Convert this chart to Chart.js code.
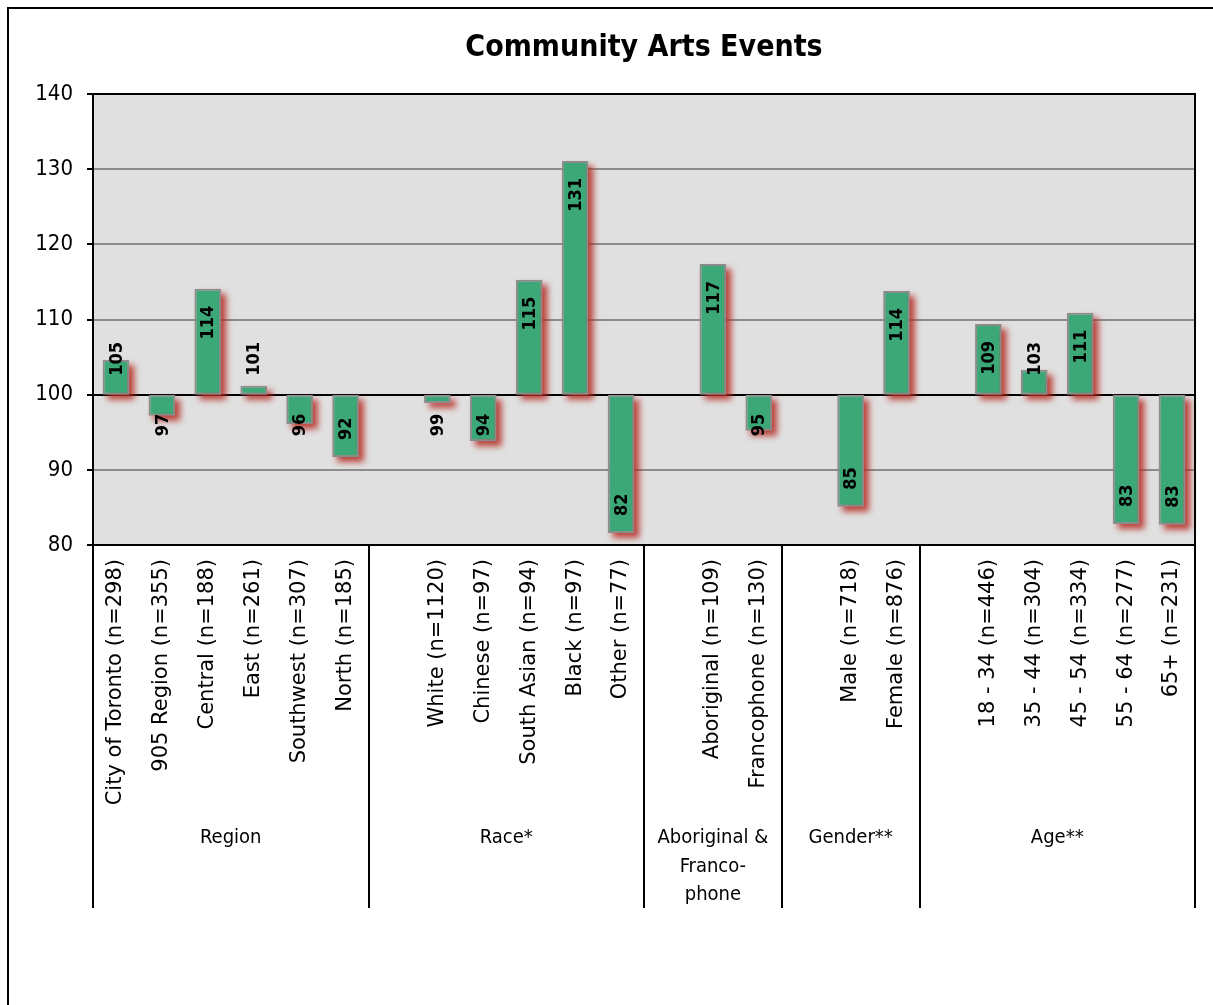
<!DOCTYPE html>
<html>
<head>
<meta charset="utf-8">
<script src="https://cdn.jsdelivr.net/npm/chart.js@4"></script>
<style>
  html, body { margin: 0; padding: 0; background: #fff; }
  #wrap { width: 1213px; height: 1005px; }
</style>
</head>
<body>
<div id="wrap"><canvas id="artsChart" width="1213" height="1005"></canvas></div>
<script>
// categories, '' = spacer slot between groups
const categories = [
  'City of Toronto (n=298)', '905 Region (n=355)', 'Central (n=188)', 'East (n=261)',
  'Southwest (n=307)', 'North (n=185)', '',
  'White (n=1120)', 'Chinese (n=97)', 'South Asian (n=94)', 'Black (n=97)', 'Other (n=77)', '',
  'Aboriginal (n=109)', 'Francophone (n=130)', '',
  'Male (n=718)', 'Female (n=876)', '',
  '18 - 34 (n=446)', '35 - 44 (n=304)', '45 - 54 (n=334)', '55 - 64 (n=277)', '65+ (n=231)'
];
const indexValues = [
  104.6, 97.2, 114.1, 101.2, 96.1, 91.7, null,
  98.9, 93.8, 115.3, 131.1, 81.6, null,
  117.4, 95.2, null,
  85.1, 113.8, null,
  109.4, 103.3, 110.9, 82.8, 82.7
];
const baseline = 100;
const groupNames = [['Region'], ['Race*'], ['Aboriginal &', 'Franco-', 'phone'], ['Gender**'], ['Age**']];
const groupStarts = [0, 6, 12, 15, 18, 24]; // slot boundaries
const yTicks = [80, 90, 100, 110, 120, 130, 140];
const chartTitle = 'Community Arts Events';

const FONT = "'DejaVu Sans Condensed', 'DejaVu Sans', sans-serif";
const WIDE = "'DejaVu Sans', sans-serif";

const ctx = document.getElementById('artsChart').getContext('2d');

const frame = {
  id: 'frame',
  beforeDraw(chart) {
    const c = chart.ctx, a = chart.chartArea;
    c.save();
    c.fillStyle = '#fff';
    c.fillRect(0, 0, chart.width, chart.height);
    c.lineWidth = 2;
    c.strokeStyle = '#000';
    c.strokeRect(8, 8, chart.width + 20, chart.height + 20);
    c.fillStyle = '#e0e0e0';
    c.fillRect(a.left, a.top, a.right - a.left, a.bottom - a.top);
    c.restore();
  },
  afterDraw(chart) {
    const c = chart.ctx, a = chart.chartArea, x = chart.scales.x;
    const slot = (a.right - a.left) / categories.length;
    c.save();
    c.strokeStyle = '#000';
    c.lineWidth = 2;
    // plot frame top/right
    c.beginPath();
    c.moveTo(a.left - 6, a.top); c.lineTo(a.right, a.top); c.lineTo(a.right, a.bottom);
    c.stroke();
    // group separators
    const lineBottom = x.bottom;
    groupStarts.forEach(s => {
      const px = Math.round(a.left + s * slot);
      c.beginPath(); c.moveTo(px, a.bottom); c.lineTo(px, lineBottom); c.stroke();
    });
    c.fillStyle = '#000';
    c.textAlign = 'center';
    c.textBaseline = 'middle';
    // title over the plot centre
    c.font = 'bold 30px ' + FONT;
    c.fillText(chartTitle, (a.left + a.right) / 2, 48);
    // group labels
    c.font = '20px ' + FONT;
    for (let g = 0; g < groupNames.length; g++) {
      const mid = a.left + (groupStarts[g] + groupStarts[g + 1]) / 2 * slot;
      groupNames[g].forEach((line, i) => c.fillText(line, mid, 838 + i * 28.5));
    }
    c.restore();
  }
};

const barShadow = {
  id: 'barShadow',
  beforeDatasetsDraw(chart) {
    const c = chart.ctx;
    const meta = chart.getDatasetMeta(0);
    c.save();
    c.filter = 'blur(3px)';
    c.fillStyle = 'rgba(180, 40, 30, 0.85)';
    meta.data.forEach((bar, i) => {
      if (indexValues[i] == null) return;
      const p = bar.getProps(['x', 'y', 'base', 'width'], true);
      const top = Math.min(p.y, p.base), h = Math.abs(p.y - p.base);
      c.fillRect(p.x - p.width / 2 + 5, top + 5, p.width, h);
    });
    c.restore();
  },
  afterDatasetsDraw(chart) {
    // value labels, inside end, kept clear of the baseline
    const c = chart.ctx;
    const meta = chart.getDatasetMeta(0);
    const base = chart.scales.y.getPixelForValue(baseline);
    c.save();
    c.fillStyle = '#000';
    c.font = "bold 18px " + FONT;
    c.textAlign = 'center';
    c.textBaseline = 'middle';
    meta.data.forEach((bar, i) => {
      const v = indexValues[i];
      if (v == null) return;
      const txt = String(Math.round(v));
      const w = c.measureText(txt).width;
      const end = chart.scales.y.getPixelForValue(v);
      let center;
      if (v >= baseline) {
        let far = end + 17, near = far + w;
        if (near > base - 19) { near = base - 19; far = near - w; }
        center = (far + near) / 2;
      } else {
        let far = end - 17, near = far - w;
        if (near < base + 19) { near = base + 19; far = near + w; }
        center = (far + near) / 2;
      }
      c.save();
      c.translate(bar.x, center);
      c.rotate(-Math.PI / 2);
      c.fillText(txt, 0, 1);
      c.restore();
    });
    c.restore();
  }
};

const chart = new Chart(ctx, {
  type: 'bar',
  data: {
    labels: categories,
    datasets: [{
      data: indexValues.map(v => v == null ? null : [baseline, v]),
      backgroundColor: '#3ca777',
      borderColor: '#8c8c8c',
      borderWidth: 2,
      borderSkipped: false,
      barPercentage: 0.58,
      categoryPercentage: 1
    }]
  },
  plugins: [frame, barShadow],
  options: {
    responsive: false,
    animation: false,
    layout: { padding: { left: 0, right: 18, top: 94, bottom: 97 } },
    plugins: {
      legend: { display: false },
      tooltip: { enabled: false },
      title: { display: false }
    },
    scales: {
      x: {
        afterFit(scale) { scale.height = 363; },
        grid: { display: false, drawTicks: false },
        border: { display: true, color: '#000', width: 2 },
        ticks: {
          autoSkip: false,
          minRotation: 90,
          maxRotation: 90,
          padding: 14,
          color: '#000',
          font: { family: WIDE, size: 21 }
        }
      },
      y: {
        min: 80,
        max: 140,
        afterFit(scale) { scale.width = 93; },
        afterBuildTicks(scale) { scale.ticks = yTicks.map(v => ({ value: v })); },
        border: { display: true, color: '#000', width: 2 },
        grid: {
          color: c => (c.tick && c.tick.value === baseline) ? '#000' : '#8c8c8c',
          lineWidth: 2,
          tickLength: 6,
          tickColor: '#000'
        },
        ticks: {
          padding: 14,
          color: '#000',
          font: { family: FONT, size: 22 }
        }
      }
    }
  }
});
</script>
</body>
</html>
